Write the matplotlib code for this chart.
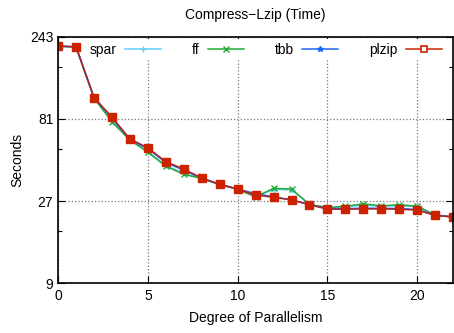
import numpy as np
import matplotlib
matplotlib.use("Agg")
import matplotlib.pyplot as plt
from matplotlib.lines import Line2D
from matplotlib.ticker import FixedLocator, NullFormatter

plt.rcParams['font.family'] = ['Liberation Sans', 'DejaVu Sans']

# degree of parallelism
x = list(range(0, 23))

# seconds
plzip = [215, 213, 108, 83, 62, 55, 45.7, 41.4, 36.7, 33.8, 31.7, 29.2, 28.4, 27.4,
         25.7, 24.2, 24.2, 24.3, 24.3, 24.2, 23.9, 22.3, 21.8]
tbb = [215, 213, 108, 82, 61.5, 54.5, 45.2, 40.8, 36.7, 33.8, 31.7, 29.8, 28.6, 27.4,
       25.7, 24.4, 24.4, 24.5, 24.5, 24.4, 24.1, 22.3, 21.9]
ff = [215, 212, 107, 78, 61, 52, 43, 38.6, 36.5, 33.6, 31.6, 28.5, 32, 31.7,
      25.8, 24.7, 25.2, 26.0, 25.3, 25.7, 25.2, 22.4, 21.7]
spar = [215, 212, 107, 79, 61.5, 52.5, 43.5, 39.2, 36.6, 33.7, 31.6, 28.8, 31.5, 31.4,
        25.8, 24.8, 25.0, 25.5, 25.2, 25.4, 25.0, 22.4, 21.8]

yticks = [9, 27, 81, 243]
yminor = [18, 54, 162]
xticks = [0, 5, 10, 15, 20]

c_spar, c_ff, c_tbb, c_plzip = '#66ccff', '#22aa33', '#1f66ff', '#cc2200'

fig = plt.figure(figsize=(4.54, 3.33), dpi=100)
ax = fig.add_axes([0.128, 0.150, 0.870, 0.739])

ax.plot(x, spar, color=c_spar, marker='+', ms=5, lw=1.1)
ax.plot(x, ff, color=c_ff, marker='x', ms=4, lw=1.1)
ax.plot(x, tbb, color=c_tbb, marker='*', ms=4, lw=1.1)
ax.plot(x, plzip, color='#b52020', marker='s', ms=6, mfc=c_plzip, mec=c_plzip,
        lw=1.1)

ax.set_yscale('log')
ax.set_ylim(9, 243)
ax.set_xlim(0, 22)
ax.yaxis.set_major_locator(FixedLocator(yticks))
ax.yaxis.set_minor_locator(FixedLocator(yminor))
ax.yaxis.set_minor_formatter(NullFormatter())
ax.set_yticklabels([str(v) for v in yticks])
ax.set_xticks(xticks)

ax.tick_params(which='both', direction='in', top=True, right=True, labelsize=10)
ax.tick_params(which='major', length=5, width=0.8)
ax.tick_params(which='minor', length=3, width=0.8)
ax.tick_params(axis='x', pad=4)

ax.grid(True, which='major', linestyle=':', color='#777777', linewidth=0.9)
for s in ax.spines.values():
    s.set_linewidth(1.2)

ax.set_title('Compress\u2212Lzip (Time)', fontsize=10, pad=13)
ax.set_xlabel('Degree of Parallelism', fontsize=10, labelpad=6)
ax.set_ylabel('Seconds', fontsize=10, labelpad=4)

handles = [
    Line2D([], [], color=c_spar, marker='+', ms=5, lw=1.1),
    Line2D([], [], color=c_ff, marker='x', ms=4, lw=1.1),
    Line2D([], [], color=c_tbb, marker='*', ms=4, lw=1.1),
    Line2D([], [], color=c_plzip, marker='s', ms=5, mfc='white', mew=1.2, lw=1.1),
]
leg = ax.legend(handles, ['spar', 'ff', 'tbb', 'plzip'], loc='upper right',
                bbox_to_anchor=(0.98, 0.99), ncol=4, fontsize=10, frameon=True,
                markerfirst=False, handlelength=2.6, columnspacing=2.2,
                borderaxespad=0.0, handletextpad=0.6, borderpad=0.25,
                fancybox=False)
leg.get_frame().set_edgecolor('none')
leg.get_frame().set_facecolor('white')
leg.get_frame().set_alpha(1.0)

fig.savefig('out.png', dpi=100)
